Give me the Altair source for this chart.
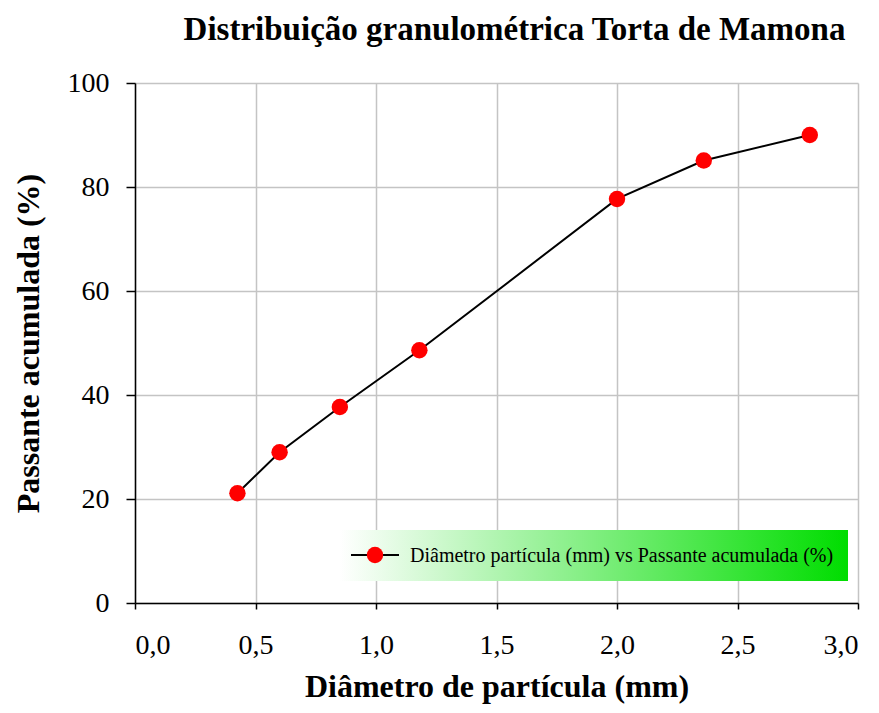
import altair as alt
import pandas as pd

diametro = [0.425, 0.6, 0.85, 1.18, 2.0, 2.36, 2.8]
passante = [21.1, 29.0, 37.7, 48.6, 77.7, 85.1, 90.0]
x_ticks = [0, 0.5, 1.0, 1.5, 2.0, 2.5, 3.0]
y_ticks = [0, 20, 40, 60, 80, 100]
titulo = "Distribuição granulométrica Torta de Mamona"
x_title = "Diâmetro de partícula (mm)"
y_title = "Passante acumulada (%)"
legend_label = "Diâmetro partícula (mm) vs Passante acumulada (%)"

FONT = "Liberation Serif"

df = pd.DataFrame({"d": diametro, "p": passante})
leg = pd.DataFrame({"label": [legend_label]})

x_enc = alt.X(
    "d:Q",
    scale=alt.Scale(domain=[0, 3], nice=False, zero=False),
    axis=alt.Axis(
        values=x_ticks,
        labelExpr="replace(format(datum.value, '.1f'), '.', ',')",
        title=x_title,
        labelFont=FONT, labelFontSize=28, labelColor="black", labelPadding=22,
        titleFont=FONT, titleFontSize=32, titleFontWeight="bold", titleColor="black",
        titlePadding=12,
        domainColor="black", domainWidth=1.5, tickColor="black", tickWidth=1.5, tickSize=6,
        gridColor="#c4c4c4", gridWidth=1.5,
    ),
)
y_enc = alt.Y(
    "p:Q",
    scale=alt.Scale(domain=[0, 100], nice=False),
    axis=alt.Axis(
        values=y_ticks,
        title=y_title,
        labelFont=FONT, labelFontSize=28, labelColor="black", labelPadding=17,
        titleFont=FONT, titleFontSize=32, titleFontWeight="bold", titleColor="black",
        titlePadding=22,
        domainColor="black", domainWidth=1.5, tickColor="black", tickWidth=1.5, tickSize=9,
        gridColor="#c4c4c4", gridWidth=1.5,
    ),
)

line = alt.Chart(df).mark_line(color="black", strokeWidth=2).encode(x=x_enc, y=y_enc)
pts = alt.Chart(df).mark_point(filled=True, color="#ff0000", size=270, opacity=1).encode(
    x="d:Q", y="p:Q"
)

grad = alt.LinearGradient(
    gradient="linear",
    stops=[alt.GradientStop(color="#ffffff", offset=0), alt.GradientStop(color="#00dd00", offset=1)],
    x1=0, x2=1, y1=0, y2=0,
)
leg_box = alt.Chart(leg).mark_rect(color=grad).encode(
    x=alt.value(205), x2=alt.value(713), y=alt.value(447), y2=alt.value(498)
)
leg_line = alt.Chart(leg).mark_rule(color="black", strokeWidth=2).encode(
    x=alt.value(216), x2=alt.value(264), y=alt.value(472)
)
leg_pt = alt.Chart(leg).mark_point(filled=True, color="#ff0000", size=270, opacity=1).encode(
    x=alt.value(240), y=alt.value(472)
)
leg_text = alt.Chart(leg).mark_text(
    align="left", baseline="middle", font=FONT, fontSize=20, color="black"
).encode(x=alt.value(275), y=alt.value(473), text="label:N")

chart = (
    alt.layer(line, pts, leg_box, leg_line, leg_pt, leg_text)
    .properties(
        width=723,
        height=520,
        title=alt.TitleParams(
            titulo, font=FONT, fontSize=33, fontWeight="bold", color="black",
            anchor="middle", dx=18, offset=22,
        ),
        autosize=alt.AutoSizeParams(type="none"),
        padding={"left": 127, "top": 75, "right": 10, "bottom": 102},
        background="white",
    )
    .configure_view(stroke=None)
)

chart.save("out.html", embed_options={"renderer": "svg", "actions": False})
